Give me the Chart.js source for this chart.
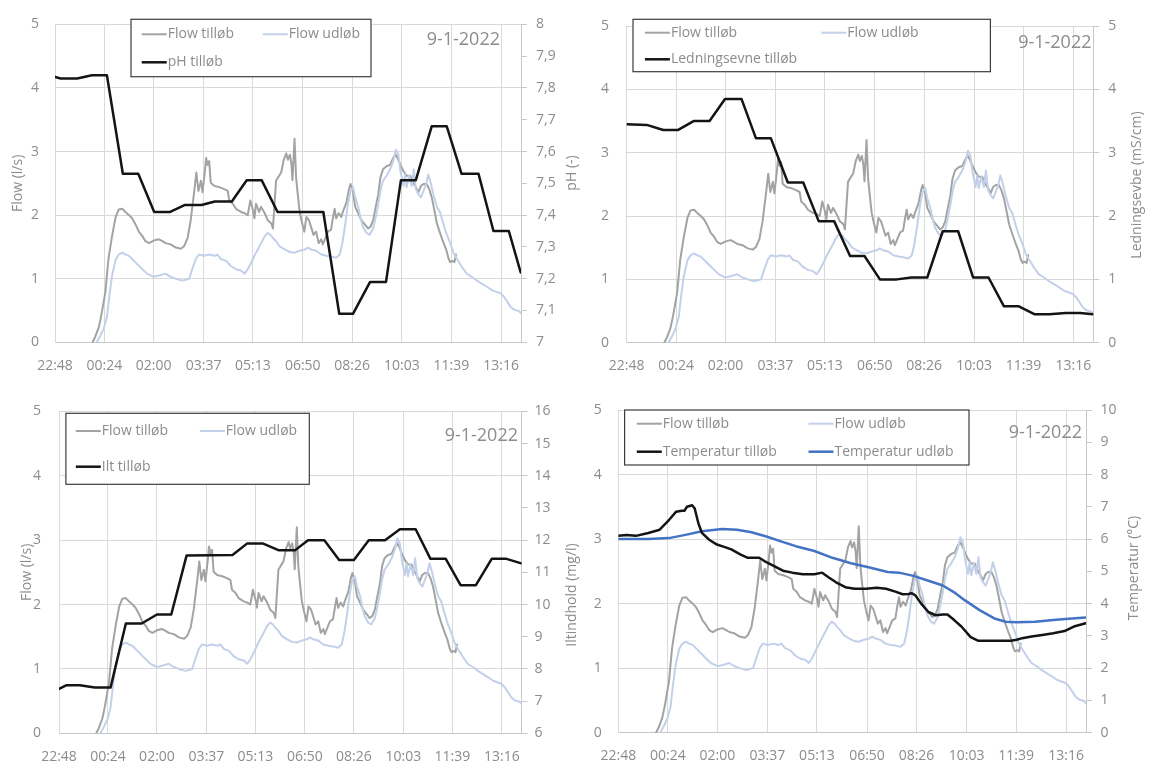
<!DOCTYPE html>
<html>
<head>
<meta charset="utf-8">
<title>Målinger 9-1-2022</title>
<script src="https://cdn.jsdelivr.net/npm/chart.js@4.4.1/dist/chart.umd.min.js"></script>
<style>
  html, body { margin: 0; padding: 0; background: #fff; }
  body { width: 1151px; height: 767px; position: relative; overflow: hidden; }
  canvas.panel { position: absolute; }
</style>
</head>
<body>
<canvas id="c1" class="panel" width="590" height="385" style="left:0;top:0"></canvas>
<canvas id="c2" class="panel" width="575" height="385" style="left:576px;top:0"></canvas>
<canvas id="c3" class="panel" width="590" height="382" style="left:0;top:385px"></canvas>
<canvas id="c4" class="panel" width="575" height="382" style="left:576px;top:385px"></canvas>
<script>
// ---- data (time = minutes after 22:48) ----
const tickLabels = ['22:48', '00:24', '02:00', '03:37', '05:13', '06:50', '08:26', '10:03', '11:39', '13:16'];
const endMinute = 906.6;
const dateLabel = '9-1-2022';

// Flow tilløb (l/s)
const flowInMin = [73,78,85,90,98,104,111,118,124,131,137,144,150,157,163,170,176,183,192,202,209,215,225,235,245,251,258,264,271,275,279,284,287,292,294,297,300,303,310,320,329,336,339,346,352,362,369,375,380,385,388,391,397,401,408,414,421,424,430,436,440,445,450,453,457,460,462,466,469,472,476,480,485,489,494,498,503,508,513,518,521,526,531,537,541,544,547,552,557,560,567,572,575,580,584,590,596,603,609,614,619,624,629,633,638,645,652,658,663,668,672,678,684,691,697,702,707,712,717,723,728,733,738,743,749,756,761,766,769,773,777,780];
const flowInVal = [0,0.08,0.23,0.42,0.79,1.31,1.67,1.97,2.09,2.10,2.05,2.0,1.95,1.85,1.74,1.67,1.59,1.56,1.6,1.62,1.59,1.56,1.54,1.49,1.47,1.51,1.64,1.92,2.38,2.67,2.38,2.54,2.36,2.72,2.9,2.79,2.85,2.51,2.46,2.44,2.41,2.38,2.23,2.18,2.1,2.05,2.03,2.0,2.23,2.08,1.95,2.18,2.05,2.13,2.03,1.92,1.87,1.79,2.54,2.62,2.67,2.87,2.97,2.87,2.95,2.8,2.55,3.2,2.6,2.35,2.05,1.9,1.74,1.97,1.92,1.82,1.69,1.74,1.56,1.62,1.54,1.64,1.74,1.77,1.97,2.1,1.95,2.03,1.97,2.05,2.2,2.41,2.49,2.36,2.13,2.03,1.92,1.85,1.79,1.82,1.92,2.13,2.33,2.59,2.72,2.77,2.79,2.9,2.95,2.87,2.79,2.69,2.62,2.62,2.51,2.44,2.36,2.46,2.49,2.49,2.41,2.28,2.08,1.87,1.72,1.56,1.46,1.31,1.26,1.28,1.26,1.38];

// Flow udløb (l/s)
const flowOutMin = [81,88,95,101,106,111,118,124,131,137,144,150,160,170,179,192,202,215,225,235,248,261,267,274,280,290,300,310,316,323,333,342,352,362,369,375,382,391,401,408,414,419,424,430,437,447,457,466,476,486,492,498,508,518,528,537,547,554,559,564,570,575,580,584,590,594,599,606,612,619,624,629,633,638,645,652,658,663,668,672,678,681,684,689,694,698,702,707,712,717,722,726,731,736,743,749,756,761,769,775,782,792,801,811,821,831,841,850,860,867,873,880,886,894,903,906];
const flowOutVal = [0,0.1,0.22,0.4,0.75,1.05,1.3,1.38,1.41,1.38,1.36,1.31,1.23,1.15,1.08,1.03,1.05,1.08,1.03,1.0,0.97,1.0,1.15,1.31,1.38,1.36,1.38,1.36,1.38,1.31,1.28,1.2,1.15,1.13,1.08,1.15,1.26,1.41,1.56,1.67,1.72,1.69,1.64,1.59,1.51,1.46,1.42,1.41,1.44,1.46,1.49,1.46,1.44,1.38,1.36,1.35,1.33,1.38,1.56,1.82,2.18,2.38,2.44,2.28,2.13,1.97,1.82,1.72,1.69,1.79,1.97,2.18,2.38,2.54,2.62,2.72,2.85,3.03,2.95,2.69,2.46,2.64,2.44,2.62,2.46,2.72,2.41,2.33,2.28,2.38,2.49,2.64,2.51,2.33,2.13,2.05,1.85,1.72,1.56,1.41,1.31,1.18,1.08,1.03,0.97,0.92,0.87,0.82,0.79,0.77,0.72,0.64,0.56,0.51,0.49,0.46];

// pH tilløb (-)
const phMin = [0,11,43,72,101,132,162,193,224,253,285,311,344,373,402,433,463,493,522,553,580,613,644,673,702,733,762,791,824,853,883,906];
const phVal = [7.835,7.83,7.83,7.84,7.84,7.53,7.53,7.41,7.41,7.432,7.432,7.443,7.443,7.51,7.51,7.41,7.41,7.41,7.41,7.09,7.09,7.19,7.19,7.51,7.51,7.68,7.68,7.53,7.53,7.35,7.35,7.22];

// Ledningsevne tilløb (mS/cm)
const condMin = [0,39,71,100,130,161,191,223,251,280,313,343,373,403,434,462,492,525,553,584,614,644,673,703,733,762,792,821,853,881,906];
const condVal = [3.45,3.44,3.36,3.36,3.5,3.5,3.85,3.85,3.23,3.23,2.53,2.53,1.92,1.92,1.37,1.37,1.0,1.0,1.03,1.03,1.76,1.76,1.03,1.03,0.575,0.575,0.45,0.45,0.47,0.47,0.45];

// Ilt tilløb (mg/l)
const oxyMin = [0,14,41,70,101,131,162,192,220,250,340,369,399,430,463,488,520,549,578,607,639,668,699,728,758,787,817,848,877,906];
const oxyVal = [7.38,7.49,7.49,7.42,7.42,9.41,9.41,9.69,9.69,11.52,11.54,11.9,11.9,11.69,11.69,12.0,12.0,11.38,11.38,12.0,12.0,12.34,12.34,11.42,11.42,10.6,10.6,11.42,11.42,11.28];

// Temperatur tilløb (°C)
const tempInMin = [0,16,34,58,80,98,112,123,128,133,143,148,155,162,176,191,205,219,237,251,273,283,301,319,337,358,380,395,408,422,440,458,480,501,519,537,551,562,569,576,587,601,615,629,638,651,665,683,697,715,736,761,772,783,801,822,843,865,883,906];
const tempInVal = [6.10,6.13,6.10,6.19,6.29,6.59,6.85,6.88,6.88,7.0,7.05,6.95,6.49,6.19,5.98,5.83,5.76,5.68,5.52,5.42,5.42,5.32,5.17,5.02,4.96,4.91,4.91,4.96,4.81,4.66,4.51,4.46,4.46,4.49,4.46,4.37,4.29,4.30,4.32,4.25,4.0,3.74,3.64,3.66,3.66,3.49,3.29,2.96,2.85,2.85,2.85,2.85,2.88,2.93,2.98,3.03,3.08,3.15,3.29,3.39];

// Temperatur udløb (°C)
const tempOutMin = [0,58,98,130,162,201,230,258,287,315,344,380,415,451,487,522,544,572,601,629,651,672,701,729,751,772,808,843,879,906];
const tempOutVal = [6.0,6.0,6.03,6.13,6.24,6.31,6.29,6.21,6.08,5.93,5.78,5.63,5.42,5.25,5.12,4.98,4.96,4.86,4.71,4.56,4.35,4.10,3.79,3.54,3.44,3.42,3.44,3.49,3.54,3.57];

// ---- helpers ----
function toMinutes(hhmm) {
  const [h, m] = hhmm.split(':').map(Number);
  return ((h * 60 + m) - (22 * 60 + 48) + 1440) % 1440;
}
const tickPos = tickLabels.map(toMinutes);
const pts = (xs, ys) => xs.map((x, i) => ({ x, y: ys[i] }));
const commaNum = v => String(Math.round(v * 10) / 10).replace('.', ',');

const FONT = "'Open Sans', 'DejaVu Sans', sans-serif";
const TXT = '#8c8c8c';
const GRID = '#d9d9d9';
const AXIS = '#c8c8c8';
const C_FLOW_IN = '#a3a3a3';
const C_FLOW_OUT = '#c3d0ea';
const C_BLACK = '#141414';
const C_BLUE = '#4472c4';

Chart.defaults.font.family = FONT;
Chart.defaults.font.size = 14;
Chart.defaults.color = TXT;

// legend box, date stamp and secondary axis title
const decor = {
  id: 'decor',
  afterDraw(chart, args, o) {
    const ctx = chart.ctx;
    ctx.save();
    const b = o.box;
    ctx.fillStyle = '#fff';
    ctx.fillRect(b.x, b.y, b.w, b.h);
    ctx.strokeStyle = '#3c3c3c';
    ctx.lineWidth = 1.2;
    ctx.strokeRect(b.x, b.y, b.w, b.h);
    ctx.font = '14px ' + FONT;
    ctx.textBaseline = 'middle';
    ctx.textAlign = 'left';
    o.items.forEach(it => {
      const ds = chart.data.datasets[it.ds];
      ctx.strokeStyle = ds.borderColor;
      ctx.lineWidth = ds.borderWidth;
      ctx.beginPath();
      ctx.moveTo(it.x, it.y);
      ctx.lineTo(it.x + 25, it.y);
      ctx.stroke();
      ctx.fillStyle = TXT;
      ctx.fillText(ds.label, it.x + 26, it.y);
    });
    ctx.font = '18px ' + FONT;
    ctx.textAlign = 'right';
    ctx.fillStyle = TXT;
    ctx.fillText(dateLabel, o.date.x, o.date.y);
    ctx.font = '14px ' + FONT;
    ctx.textAlign = 'center';
    ctx.translate(o.side.x, o.side.y);
    ctx.rotate(-Math.PI / 2);
    ctx.fillText(o.side.text, 0, 0);
    ctx.restore();
  }
};

function lineDs(label, xs, ys, color, width, axis, order) {
  return {
    label, data: pts(xs, ys), borderColor: color, borderWidth: width,
    yAxisID: axis, order, pointRadius: 0, tension: 0, fill: false,
    borderJoinStyle: 'round', borderCapStyle: 'round'
  };
}

function makePanel(p) {
  const datasets = [
    lineDs('Flow tilløb', flowInMin, flowInVal, C_FLOW_IN, 2, 'y', 3),
    lineDs('Flow udløb', flowOutMin, flowOutVal, C_FLOW_OUT, 2, 'y', 2)
  ].concat(p.series);

  new Chart(document.getElementById(p.id), {
    type: 'line',
    data: { datasets },
    plugins: [decor],
    options: {
      responsive: false,
      animation: false,
      events: [],
      layout: { padding: { left: 0, right: 0, top: p.geo.top, bottom: 0 } },
      plugins: {
        legend: { display: false },
        tooltip: { enabled: false },
        decor: { box: p.box, items: p.items, date: p.date, side: p.side }
      },
      scales: {
        x: {
          type: 'linear', min: 0, max: endMinute,
          afterBuildTicks: s => { s.ticks = tickPos.map(v => ({ value: v })); },
          afterFit: s => { s.height = p.geo.bottom; },
          ticks: {
            autoSkip: false, maxRotation: 0, padding: 15,
            callback: (v, i) => tickLabels[i]
          },
          grid: { color: GRID, drawTicks: false },
          border: { display: true, color: AXIS }
        },
        y: {
          position: 'left', min: 0, max: 5,
          afterFit: s => { s.width = p.geo.left; },
          ticks: { stepSize: 1, padding: p.leftPad },
          grid: { color: GRID, drawTicks: false },
          border: { display: true, color: GRID },
          title: p.leftTitle
            ? { display: true, text: 'Flow (l/s)', padding: { top: p.leftTitle, bottom: 0 } }
            : { display: false }
        },
        y2: {
          position: 'right', min: p.right.min, max: p.right.max,
          afterFit: s => { s.width = p.geo.right; },
          ticks: { stepSize: p.right.step, padding: p.rightPad, callback: v => commaNum(v) },
          grid: { drawOnChartArea: false, drawTicks: true, tickLength: 6, color: AXIS },
          border: { display: true, color: AXIS }
        }
      }
    }
  });
}

makePanel({
  id: 'c1',
  series: [lineDs('pH tilløb', phMin, phVal, C_BLACK, 2.5, 'y2', 0)],
  right: { min: 7, max: 8, step: 0.1 },
  geo: { left: 55, right: 69, top: 15, bottom: 42.7 },
  leftPad: 16, rightPad: 9, leftTitle: 10.1,
  box: { x: 131, y: 19.3, w: 240, h: 57.4 },
  items: [{ ds: 0, x: 141.7, y: 34.3 }, { ds: 1, x: 262.7, y: 34.3 }, { ds: 2, x: 141.7, y: 62.3 }],
  date: { x: 500, y: 40 },
  side: { x: 571.6, y: 173, text: 'pH (-)' }
});

makePanel({
  id: 'c2',
  series: [lineDs('Ledningsevne tilløb', condMin, condVal, C_BLACK, 2.5, 'y2', 0)],
  right: { min: 0, max: 5, step: 1 },
  geo: { left: 50.7, right: 57.7, top: 15, bottom: 42.3 },
  leftPad: 17.7, rightPad: 9, leftTitle: null,
  box: { x: 57, y: 19.3, w: 357.4, h: 52.4 },
  items: [{ ds: 0, x: 68.9, y: 32.7 }, { ds: 1, x: 245.3, y: 32.7 }, { ds: 2, x: 68.9, y: 59.3 }],
  date: { x: 515.5, y: 42.7 },
  side: { x: 561.5, y: 185, text: 'Ledningsevbe (mS/cm)' }
});

makePanel({
  id: 'c3',
  series: [lineDs('Ilt tilløb', oxyMin, oxyVal, C_BLACK, 2.5, 'y2', 0)],
  right: { min: 6, max: 16, step: 1 },
  geo: { left: 59, right: 68.4, top: 23.3, bottom: 33.7 },
  leftPad: 18, rightPad: 7, leftTitle: 18.2,
  box: { x: 65.9, y: 28.3, w: 243.4, h: 71 },
  items: [{ ds: 0, x: 75.8, y: 46 }, { ds: 1, x: 199.8, y: 46 }, { ds: 2, x: 75.8, y: 81.7 }],
  date: { x: 518, y: 51 },
  side: { x: 571.6, y: 210, text: 'Iltindhold (mg/l)' }
});

makePanel({
  id: 'c4',
  series: [
    lineDs('Temperatur tilløb', tempInMin, tempInVal, C_BLACK, 2.5, 'y2', 0),
    lineDs('Temperatur udløb', tempOutMin, tempOutVal, C_BLUE, 2.5, 'y2', 1)
  ],
  right: { min: 0, max: 10, step: 1 },
  geo: { left: 42.4, right: 65, top: 20, bottom: 34.3 },
  leftPad: 16.6, rightPad: 8.5, leftTitle: null,
  box: { x: 48.6, y: 25, w: 344.4, h: 55 },
  items: [{ ds: 0, x: 60.8, y: 38.7 }, { ds: 1, x: 232.5, y: 38.7 }, { ds: 2, x: 60.8, y: 66.7 }, { ds: 3, x: 232.5, y: 66.7 }],
  date: { x: 506, y: 47.7 },
  side: { x: 557.8, y: 183, text: 'Temperatur (°C)' }
});
</script>
</body>
</html>
